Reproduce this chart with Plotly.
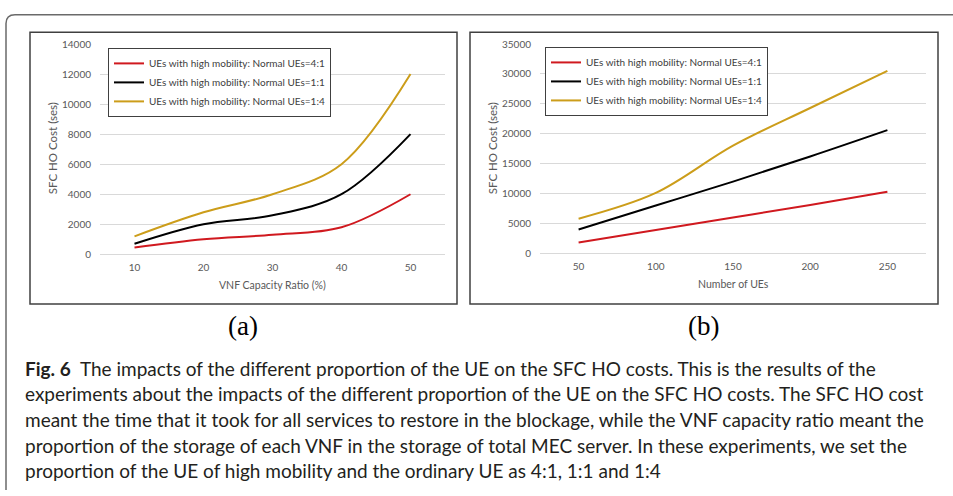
import plotly.graph_objects as go

W, H = 953, 496

# ---------------- data ----------------
vnf_ratio = [10, 20, 30, 40, 50]
cost_a_41 = [450, 1000, 1300, 1800, 4000]
cost_a_11 = [700, 2000, 2600, 4000, 8000]
cost_a_14 = [1200, 2800, 4000, 6000, 12000]

num_ues = [50, 100, 150, 200, 250]
cost_b_41 = [1800, 3900, 6000, 8100, 10300]
cost_b_11 = [4000, 8000, 12000, 16200, 20600]
cost_b_14 = [5800, 10100, 18000, 24300, 30500]

series_names = [
    "UEs with high mobility: Normal UEs=4:1",
    "UEs with high mobility: Normal UEs=1:1",
    "UEs with high mobility: Normal UEs=1:4",
]
series_colors = ["#d0191f", "#000000", "#cc9d1a"]

ticks_a_x = vnf_ratio
ticks_a_y = [0, 2000, 4000, 6000, 8000, 10000, 12000, 14000]
ticks_b_x = num_ues
ticks_b_y = [0, 5000, 10000, 15000, 20000, 25000, 30000, 35000]

caption_lines = [
    "<b>Fig. 6</b>  The impacts of the different proportion of the UE on the SFC HO costs. This is the results of the",
    "experiments about the impacts of the different proportion of the UE on the SFC HO costs. The SFC HO cost",
    "meant the time that it took for all services to restore in the blockage, while the VNF capacity ratio meant the",
    "proportion of the storage of each VNF in the storage of total MEC server. In these experiments, we set the",
    "proportion of the UE of high mobility and the ordinary UE as 4:1, 1:1 and 1:4",
]

# ---------------- helpers ----------------
def px(x):
    return x / W

def py(y):
    return 1 - y / H

fig = go.Figure()

for vals, name, col in zip([cost_a_41, cost_a_11, cost_a_14], series_names, series_colors):
    fig.add_trace(go.Scatter(x=vnf_ratio, y=vals, name=name, mode="lines",
                             line=dict(color=col, width=2, shape="spline", smoothing=1),
                             xaxis="x", yaxis="y", legend="legend"))
for vals, name, col in zip([cost_b_41, cost_b_11, cost_b_14], series_names, series_colors):
    fig.add_trace(go.Scatter(x=num_ues, y=vals, name=name, mode="lines",
                             line=dict(color=col, width=2, shape="spline", smoothing=1),
                             xaxis="x2", yaxis="y2", legend="legend2"))

tickfont = dict(family="Lato", size=10, color="#595959")
grid = "#d9d9d9"

fig.update_layout(
    width=W, height=H, margin=dict(l=0, r=0, t=0, b=0),
    paper_bgcolor="white", plot_bgcolor="white",
    showlegend=True,
    xaxis=dict(domain=[px(100), px(445)], range=[5, 55], tickvals=ticks_a_x,
               showgrid=False, zeroline=False, showline=False, ticks="",
               tickfont=tickfont, ticklabelstandoff=6, anchor="y"),
    yaxis=dict(domain=[py(254), py(38)], range=[0, 14000], tickvals=ticks_a_y,
               tickformat="d",
               showgrid=True, gridcolor=grid, gridwidth=1, zeroline=True,
               zerolinecolor=grid, zerolinewidth=1, showline=False, ticks="",
               tickfont=tickfont, ticklabelstandoff=8, anchor="x"),
    xaxis2=dict(domain=[px(540), px(926)], range=[25, 275], tickvals=ticks_b_x,
                showgrid=False, zeroline=False, showline=False, ticks="",
                tickfont=tickfont, ticklabelstandoff=6, anchor="y2"),
    yaxis2=dict(domain=[py(253), py(38)], range=[0, 35000], tickvals=ticks_b_y,
                tickformat="d",
                showgrid=True, gridcolor=grid, gridwidth=1, zeroline=True,
                zerolinecolor=grid, zerolinewidth=1, showline=False, ticks="",
                tickfont=tickfont, ticklabelstandoff=8, anchor="x2"),
    legend=dict(x=px(108), y=py(42), xanchor="left", yanchor="top",
                bgcolor="white", bordercolor="#404040", borderwidth=1,
                font=dict(family="Lato", size=10, color="#404040"),
                itemwidth=30, tracegroupgap=0),
    legend2=dict(x=px(545), y=py(41), xanchor="left", yanchor="top",
                 bgcolor="white", bordercolor="#404040", borderwidth=1,
                 font=dict(family="Lato", size=10, color="#404040"),
                 itemwidth=30, tracegroupgap=0),
)

shapes = []
# outer rounded border
r = 9
path = (f"M {px(6)},{py(496)} L {px(6)},{py(8 + r)} "
        f"Q {px(6)},{py(8)} {px(6 + r)},{py(8)} L {px(960)},{py(8)}")
shapes.append(dict(type="path", xref="paper", yref="paper", path=path,
                   line=dict(color="#6a6a6a", width=1.5)))
# panel frames
for x0, x1 in [(30, 457), (470, 938)]:
    shapes.append(dict(type="rect", xref="paper", yref="paper",
                       x0=px(x0), x1=px(x1), y0=py(305), y1=py(26),
                       line=dict(color="#404040", width=1.5), layer="below"))
fig.update_layout(shapes=shapes)

ann = []
titlefont = dict(family="Lato", size=10.5, color="#595959")
ytitlefont = dict(family="Lato", size=11.5, color="#595959")

def center_ann(text, x, y, font, angle=0):
    return dict(text=text, x=px(x), y=py(y), xref="paper", yref="paper",
                xanchor="center", yanchor="middle", textangle=angle,
                showarrow=False, font=font)

ann.append(center_ann("SFC HO Cost (ses)", 52, 145, ytitlefont, -90))
ann.append(center_ann("VNF Capacity Ratio (%)", 272, 285, titlefont))
ann.append(center_ann("SFC HO Cost (ses)", 492, 145, ytitlefont, -90))
ann.append(center_ann("Number of UEs", 733, 284, titlefont))
for lab, cx in [("(a)", 243), ("(b)", 703)]:
    ann.append(center_ann(lab, cx, 328, dict(family="Liberation Serif", size=27, color="#000000")))
for i, line in enumerate(caption_lines):
    ann.append(dict(text=line, x=px(23), y=py(371 + 26.3 * i), xref="paper", yref="paper",
                    xanchor="left", yanchor="middle", showarrow=False,
                    font=dict(family="Lato", size=19, color="#231f20")))
fig.update_layout(annotations=ann)

fig.write_html("out.html")
